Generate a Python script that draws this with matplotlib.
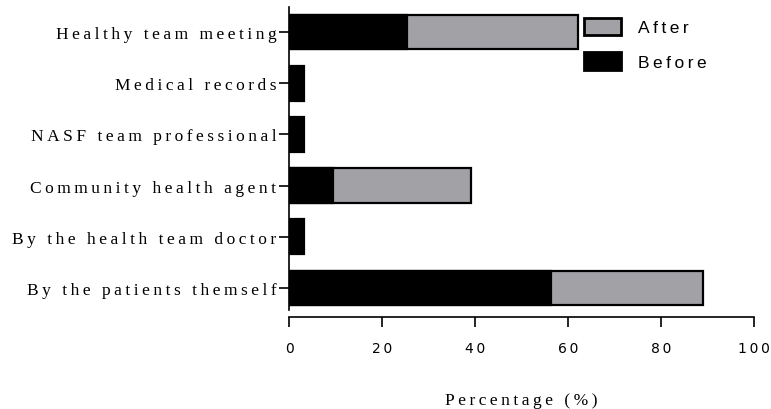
import matplotlib
matplotlib.use("Agg")
import matplotlib.pyplot as plt
from matplotlib.patches import Patch

categories = [
    "By the patients themself",
    "By the health team doctor",
    "Community health agent",
    "NASF team professional",
    "Medical records",
    "Healthy team meeting",
]
before = [56.3, 3.3, 9.5, 3.3, 3.3, 25.4]
after_total = [89.0, 0, 39.1, 0, 0, 62.1]
x_ticks = [0, 20, 40, 60, 80, 100]

GRAY = "#a2a1a6"
SERIF = ["Liberation Serif", "DejaVu Serif"]
SANS = ["Liberation Sans", "DejaVu Sans"]


def spaced(s):
    # the original has very loose letter spacing
    return "\u2009".join(s)


fig = plt.figure(figsize=(7.71, 4.10), dpi=100)
ax = fig.add_axes([289 / 771, 1 - 311 / 410, (754 - 289) / 771, (311 - 8) / 410])

ys = list(range(len(categories)))
ax.barh(ys, after_total, height=0.68, color=GRAY, edgecolor="black", linewidth=1.6)
ax.barh(ys, before, height=0.68, color="black", edgecolor="black", linewidth=1.6)

ax.set_xlim(0, 100)
ax.set_ylim(-0.43, 5.49)
ax.set_xticks(x_ticks)
ax.set_xticklabels([spaced(str(t)) for t in x_ticks], family=SERIF, fontsize=12.5)
ax.set_yticks(ys)
ax.set_yticklabels([spaced(c) for c in categories], family=SERIF, fontsize=12.5)

for side in ("top", "right"):
    ax.spines[side].set_visible(False)
ax.spines["bottom"].set_position(("outward", 5))
for side in ("left", "bottom"):
    ax.spines[side].set_linewidth(1.2)
ax.tick_params(axis="both", direction="out", length=7, width=1.2)
ax.tick_params(axis="x", pad=10)
ax.tick_params(axis="y", pad=2)

ax.set_xlabel(spaced("Percentage (%)"), family=SERIF, fontsize=12.5, labelpad=27)

handles = [
    Patch(facecolor=GRAY, edgecolor="black", linewidth=2, label=spaced("After")),
    Patch(facecolor="black", edgecolor="black", linewidth=2, label=spaced("Before")),
]
ax.legend(handles=handles, loc="upper left", bbox_to_anchor=(0.609, 1.005),
          frameon=False, prop={"family": SANS, "size": 12.5},
          handlelength=2.1, handleheight=1.2, labelspacing=0.95, handletextpad=1.0,
          borderaxespad=0.3)

fig.savefig("out.png", dpi=100)
